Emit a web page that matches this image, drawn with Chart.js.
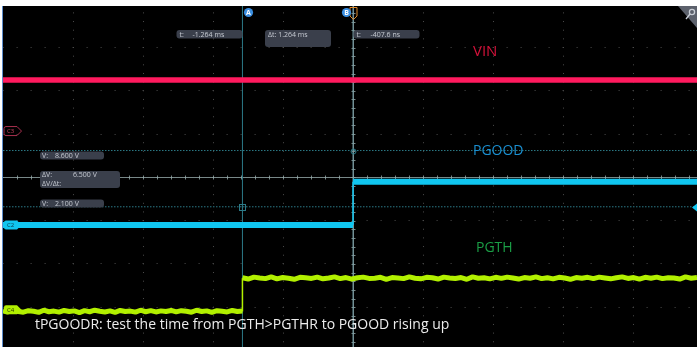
<!DOCTYPE html>
<html>
<head>
<meta charset="utf-8">
<script src="https://cdn.jsdelivr.net/npm/chart.js@4.4.1/dist/chart.umd.min.js"></script>
<style>
  html, body { margin: 0; padding: 0; background: #fff; overflow: hidden; }
  canvas { display: block; }
</style>
</head>
<body>
<canvas id="scope" width="697" height="347"></canvas>
<script>
// ---- acquisition data -------------------------------------------------
// time axis in ms (0.8 ms per division)
const timeRangeMs = [-4.0, 3.93];
const timeGridMs = [-3.2, -2.4, -1.6, -0.8, 0, 0.8, 1.6, 2.4, 3.2];
// vertical axis in screen divisions
const divRange = [-3.92, 3.96];
const divGrid = [-3, -2, -1, 0, 1, 2, 3];

const traceNames = ['VIN', 'PGOOD', 'PGTH'];
const channelTags = ['C3', 'C2', 'C4'];

// VIN (C3), level in divisions
const vinLevelDiv = [2.25, 2.25];
// PGOOD (C2), volts: low / high, edge time in ms
const pgoodVolts = [0, 5];
const pgoodEdgeMs = -0.0004076;
// PGTH (C4), level in divisions: low / high, edge time in ms
const pgthLevelDiv = [-3.10, -2.33];
const pgthEdgeMs = -1.264;
const pgthLowRipple = [0.015, -0.01, 0.025, 0.00, -0.015, 0.02, 0.005, -0.02, 0.03, -0.005, 0.01,
  -0.015, 0.025, 0.00, 0.015, -0.025, 0.02, -0.005, 0.03, 0.005, -0.01, 0.015, -0.02, 0.025, 0.00,
  0.01, -0.015, 0.03, -0.005, 0.02, -0.01, 0.015, 0.00, 0.025, -0.01, 0.02, 0.005, -0.015, 0.03,
  0.00, 0.015, -0.02, 0.02, 0.005, -0.01, 0.025, 0.00, 0.01];
const pgthHighRipple = [0.01, -0.02, 0.025, 0.005, -0.01, 0.03, -0.015, 0.015, 0.00, -0.025, 0.02,
  0.01, -0.005, 0.025, -0.015, 0.005, 0.03, -0.01, 0.015, -0.02, 0.01, 0.025, -0.005, 0.00, 0.02,
  -0.025, 0.015, 0.005, -0.01, 0.03, 0.00, -0.015, 0.02, 0.01, -0.02, 0.025, 0.005, -0.005, 0.015,
  -0.025, 0.03, 0.00, 0.01, -0.015, 0.02, -0.005, 0.025, 0.005, -0.02, 0.015, 0.00, 0.03, -0.01,
  0.01, -0.015, 0.02, 0.005, -0.025, 0.015, 0.00, 0.02, -0.01, 0.025, 0.005, -0.015, 0.01, 0.03,
  -0.005, 0.015, -0.02, 0.02, 0.00, 0.025, -0.01, 0.01, 0.005, -0.02, 0.03, 0.00, 0.015];

// cursors: A / B times (ms), horizontal cursors on C2 (V)
const cursorTimesMs = [-1.264, -0.0004076];
const cursorVolts = [8.6, 2.1];

// caption
const caption = 'tPGOODR: test the time from PGTH>PGTHR to PGOOD rising up';

// ---- channel settings -------------------------------------------------
const c2VoltsPerDiv = 5;
const groundDiv = { C3: 1.07, C2: -1.10, C4: -3.06 };

const colors = {
  vin: '#ff1a5e', pgood: '#10c6f0', pgth: '#b2f000',
  cursor: '#2c7a87', cursorB: '#6f98a0', grid: '#4c4c4c', centre: 'rgba(150,170,170,0.8)'
};

// ---- build series -----------------------------------------------------
const [tMin, tMax] = timeRangeMs;
const vinData = [{ x: tMin, y: vinLevelDiv[0] }, { x: tMax, y: vinLevelDiv[1] }];

const pgoodLevels = [
  { x: tMin, y: pgoodVolts[0] }, { x: pgoodEdgeMs, y: pgoodVolts[0] },
  { x: pgoodEdgeMs, y: null },
  { x: pgoodEdgeMs, y: pgoodVolts[1] }, { x: tMax, y: pgoodVolts[1] }
];
const pgoodEdge = [{ x: pgoodEdgeMs, y: pgoodVolts[0] }, { x: pgoodEdgeMs, y: pgoodVolts[1] }];

function rippleSeries(t0, t1, level, ripple) {
  const n = ripple.length;
  return ripple.map((r, i) => ({ x: t0 + (t1 - t0) * i / (n - 1), y: level + r }));
}
const pgthLow = rippleSeries(tMin, pgthEdgeMs, pgthLevelDiv[0], pgthLowRipple);
const pgthHigh = rippleSeries(pgthEdgeMs, tMax, pgthLevelDiv[1], pgthHighRipple);
const pgthEdge = [{ x: pgthEdgeMs, y: pgthLevelDiv[0] }, { x: pgthEdgeMs, y: pgthLevelDiv[1] }];

const cursorA = [{ x: cursorTimesMs[0], y: divRange[0] }, { x: cursorTimesMs[0], y: divRange[1] }];
const cursorB = [{ x: cursorTimesMs[1], y: divRange[0] }, { x: cursorTimesMs[1], y: divRange[1] }];
const cursorV1 = [{ x: tMin, y: cursorVolts[0] }, { x: tMax, y: cursorVolts[0] }];
const cursorV2 = [{ x: tMin, y: cursorVolts[1] }, { x: tMax, y: cursorVolts[1] }];

function trace(data, color, width, axis) {
  return {
    data, borderColor: color, borderWidth: width, yAxisID: axis || 'y',
    pointRadius: 0, pointHitRadius: 0, borderJoinStyle: 'bevel', spanGaps: false, fill: false
  };
}

// ---- drawing helpers --------------------------------------------------
function roundBox(ctx, x, y, w, h, r, fill) {
  ctx.beginPath();
  ctx.roundRect(x, y, w, h, r);
  ctx.fillStyle = fill;
  ctx.fill();
}

function channelMarker(ctx, yPix, tag, fill, stroke, textColor) {
  ctx.beginPath();
  ctx.moveTo(6, yPix - 4.5);
  ctx.lineTo(17, yPix - 4.5);
  ctx.lineTo(21.5, yPix);
  ctx.lineTo(17, yPix + 4.5);
  ctx.lineTo(6, yPix + 4.5);
  ctx.quadraticCurveTo(4, yPix + 4.5, 4, yPix + 2.5);
  ctx.lineTo(4, yPix - 2.5);
  ctx.quadraticCurveTo(4, yPix - 4.5, 6, yPix - 4.5);
  ctx.closePath();
  if (fill) { ctx.fillStyle = fill; ctx.fill(); }
  if (stroke) { ctx.strokeStyle = stroke; ctx.lineWidth = 1; ctx.stroke(); }
  ctx.fillStyle = textColor;
  ctx.font = '6px "Open Sans"';
  ctx.textBaseline = 'middle';
  ctx.textAlign = 'left';
  ctx.fillText(tag, 7, yPix + 0.5);
}

const fmt = (v, d) => v.toFixed(d);

const scopeOverlay = {
  id: 'scopeOverlay',
  beforeDraw(chart) {
    const { ctx, chartArea: a } = chart;
    ctx.save();
    ctx.fillStyle = '#000';
    ctx.fillRect(a.left, a.top, a.right - a.left, a.bottom - a.top);
    ctx.restore();
  },
  beforeDatasetsDraw(chart) {
    // centre crosshair with minor ticks (5 per division)
    const { ctx, chartArea: a, scales: { x, y } } = chart;
    const x0 = Math.round(x.getPixelForValue(0)) + 0.5;
    const y0 = Math.round(y.getPixelForValue(0)) + 0.5;
    ctx.save();
    ctx.strokeStyle = colors.centre;
    ctx.lineWidth = 1;
    ctx.beginPath();
    ctx.moveTo(a.left, y0); ctx.lineTo(a.right, y0);
    ctx.moveTo(x0, a.top); ctx.lineTo(x0, a.bottom);
    for (let k = 1; k < 50; k++) {
      const xp = Math.round(x.getPixelForValue(tMin + 0.16 * k)) + 0.5;
      if (xp > a.right) break;
      ctx.moveTo(xp, y0 - 2); ctx.lineTo(xp, y0 + 2);
    }
    for (let k = -19; k <= 19; k++) {
      const yp = Math.round(y.getPixelForValue(0.2 * k)) + 0.5;
      if (yp < a.top || yp > a.bottom) continue;
      ctx.moveTo(x0 - 2, yp); ctx.lineTo(x0 + 2, yp);
    }
    ctx.stroke();
    ctx.restore();
  },
  afterDatasetsDraw(chart) {
    const { ctx, chartArea: a, scales: { x, y, yC2 } } = chart;
    const xa = Math.round(x.getPixelForValue(cursorTimesMs[0])) + 0.5;
    const xb = Math.round(x.getPixelForValue(cursorTimesMs[1])) + 0.5;
    const yv1 = Math.round(yC2.getPixelForValue(cursorVolts[0])) + 0.5;
    const yv2 = Math.round(yC2.getPixelForValue(cursorVolts[1])) + 0.5;
    ctx.save();

    // left frame edge
    ctx.strokeStyle = '#5d8dcc';
    ctx.lineWidth = 1;
    ctx.beginPath(); ctx.moveTo(2.5, a.top); ctx.lineTo(2.5, a.bottom); ctx.stroke();

    // cursor intersection markers
    ctx.strokeStyle = colors.cursor;
    ctx.beginPath(); ctx.arc(xb, yv1, 2.5, 0, Math.PI * 2); ctx.stroke();
    ctx.strokeRect(xa - 3, yv2 - 3, 6, 6);

    // trigger position marker
    ctx.strokeStyle = '#e08a2a';
    ctx.lineWidth = 1;
    ctx.beginPath();
    ctx.moveTo(xb - 3.5, 7.5); ctx.lineTo(xb + 3.5, 7.5); ctx.lineTo(xb + 3.5, 16);
    ctx.lineTo(xb, 19.5); ctx.lineTo(xb - 3.5, 16); ctx.closePath(); ctx.stroke();

    // cursor handles
    [['A', xa + 6], ['B', xb - 7]].forEach(([t, cx]) => {
      ctx.beginPath(); ctx.arc(cx, 12.5, 4.6, 0, Math.PI * 2);
      ctx.fillStyle = '#3a8ee0'; ctx.fill();
      ctx.fillStyle = '#fff';
      ctx.font = 'bold 7px "Open Sans"';
      ctx.textAlign = 'center'; ctx.textBaseline = 'middle';
      ctx.fillText(t, cx, 12.8);
    });

    // readouts
    const boxFill = '#3a3f4b';
    const txt = '#c6cad2';
    ctx.font = '7px "Open Sans"';
    ctx.textAlign = 'left'; ctx.textBaseline = 'alphabetic';
    const dt = cursorTimesMs[1] - cursorTimesMs[0];
    const dv = cursorVolts[0] - cursorVolts[1];

    roundBox(ctx, xa - 66, 30, 66, 8.5, 3, boxFill);
    ctx.fillStyle = txt;
    ctx.fillText('t:', xa - 63, 36.5);
    ctx.fillText(fmt(cursorTimesMs[0], 3) + ' ms', xa - 50, 36.5);

    const mid = (xa + xb) / 2;
    roundBox(ctx, mid - 33, 30, 66, 17, 3, boxFill);
    ctx.fillStyle = txt;
    ctx.fillText('\u0394t: ' + fmt(dt, 3) + ' ms', mid - 30, 36.5);

    roundBox(ctx, xb, 30, 66, 8.5, 3, boxFill);
    ctx.fillStyle = txt;
    ctx.fillText('t:', xb + 3, 36.5);
    ctx.fillText(fmt(cursorTimesMs[1] * 1e6, 1) + ' ns', xb + 17, 36.5);

    roundBox(ctx, 40, yv1, 64, 8, 3, boxFill);
    ctx.fillStyle = txt;
    ctx.fillText('V:', 42, yv1 + 6.3);
    ctx.fillText(fmt(cursorVolts[0], 3) + ' V', 55, yv1 + 6.3);

    const vmid = (yv1 + yv2) / 2;
    roundBox(ctx, 40, vmid - 8.5, 80, 17, 3, boxFill);
    ctx.fillStyle = txt;
    ctx.fillText('\u0394V:', 42, vmid - 2.3);
    ctx.fillText(fmt(dv, 3) + ' V', 73, vmid - 2.3);
    ctx.fillText('\u0394V/\u0394t:', 42, vmid + 6);

    roundBox(ctx, 40, yv2 - 8, 64, 8, 3, boxFill);
    ctx.fillStyle = txt;
    ctx.fillText('V:', 42, yv2 - 1.7);
    ctx.fillText(fmt(cursorVolts[1], 3) + ' V', 55, yv2 - 1.7);

    // right-edge C2 cursor marker
    ctx.fillStyle = colors.pgood;
    ctx.beginPath();
    ctx.moveTo(a.right, yv2 - 4); ctx.lineTo(a.right - 5, yv2); ctx.lineTo(a.right, yv2 + 4);
    ctx.closePath(); ctx.fill();

    // channel ground markers
    channelMarker(ctx, y.getPixelForValue(groundDiv.C3), channelTags[0], null, '#a8304e', '#c8405e');
    channelMarker(ctx, y.getPixelForValue(groundDiv.C2), channelTags[1], colors.pgood, null, '#0b3a4c');
    channelMarker(ctx, y.getPixelForValue(groundDiv.C4), channelTags[2], colors.pgth, null, '#2c3a00');

    // corner zoom tab
    ctx.fillStyle = '#5c616c';
    ctx.beginPath();
    ctx.moveTo(a.right - 19, a.top); ctx.lineTo(a.right, a.top); ctx.lineTo(a.right, a.top + 22);
    ctx.closePath(); ctx.fill();
    ctx.strokeStyle = '#c9ced6'; ctx.lineWidth = 1.3;
    ctx.beginPath(); ctx.arc(a.right - 5, a.top + 6, 2.6, 0, Math.PI * 2); ctx.stroke();
    ctx.beginPath(); ctx.moveTo(a.right - 7, a.top + 8); ctx.lineTo(a.right - 11, a.top + 13); ctx.stroke();

    // trace names
    ctx.textAlign = 'left'; ctx.textBaseline = 'alphabetic';
    ctx.font = '15px "Open Sans"';
    ctx.fillStyle = '#d3123a';
    ctx.fillText(traceNames[0], x.getPixelForValue(1.37), y.getPixelForValue(2.8));
    ctx.font = '14px "Open Sans"';
    ctx.fillStyle = '#1a8fd0';
    ctx.fillText(traceNames[1], x.getPixelForValue(1.37), y.getPixelForValue(0.52));
    ctx.fillStyle = '#1a9e46';
    ctx.fillText(traceNames[2], x.getPixelForValue(1.405), y.getPixelForValue(-1.73));

    // caption
    ctx.font = '14px "Open Sans"';
    ctx.fillStyle = '#ececec';
    ctx.fillText(caption, x.getPixelForValue(-3.635), y.getPixelForValue(-3.51));

    ctx.restore();
  }
};

// ---- chart --------------------------------------------------------------
new Chart(document.getElementById('scope'), {
  type: 'line',
  data: {
    datasets: [
      trace(vinData, colors.vin, 5.5),
      trace(pgoodLevels, colors.pgood, 6, 'yC2'),
      trace(pgoodEdge, colors.pgood, 1.5, 'yC2'),
      trace(pgthLow, colors.pgth, 5),
      trace(pgthHigh, colors.pgth, 5),
      trace(pgthEdge, colors.pgth, 1.5),
      trace(cursorA, colors.cursor, 1),
      trace(cursorB, colors.cursorB, 1),
      Object.assign(trace(cursorV1, colors.cursor, 1, 'yC2'), { borderDash: [1.5, 1.5] }),
      Object.assign(trace(cursorV2, colors.cursor, 1, 'yC2'), { borderDash: [1.5, 1.5] })
    ]
  },
  options: {
    responsive: false,
    animation: false,
    events: [],
    layout: { padding: { left: 3, top: 6, right: 0, bottom: 0 } },
    plugins: { legend: { display: false }, tooltip: { enabled: false } },
    scales: {
      x: {
        type: 'linear', min: tMin, max: tMax,
        afterBuildTicks: (s) => { s.ticks = timeGridMs.map(v => ({ value: v })); },
        ticks: { display: false },
        grid: { display: true, drawTicks: false, color: colors.grid, lineWidth: 1 },
        border: { display: false, dash: [1, 7.654], dashOffset: 2.25 }
      },
      y: {
        type: 'linear', min: divRange[0], max: divRange[1],
        afterBuildTicks: (s) => { s.ticks = divGrid.map(v => ({ value: v })); },
        ticks: { display: false },
        grid: { display: true, drawTicks: false, color: colors.grid, lineWidth: 1 },
        border: { display: false, dash: [1, 13], dashOffset: 0.4 }
      },
      yC2: {
        type: 'linear', display: false,
        min: (divRange[0] - groundDiv.C2) * c2VoltsPerDiv,
        max: (divRange[1] - groundDiv.C2) * c2VoltsPerDiv
      }
    }
  },
  plugins: [scopeOverlay]
});
</script>
</body>
</html>
